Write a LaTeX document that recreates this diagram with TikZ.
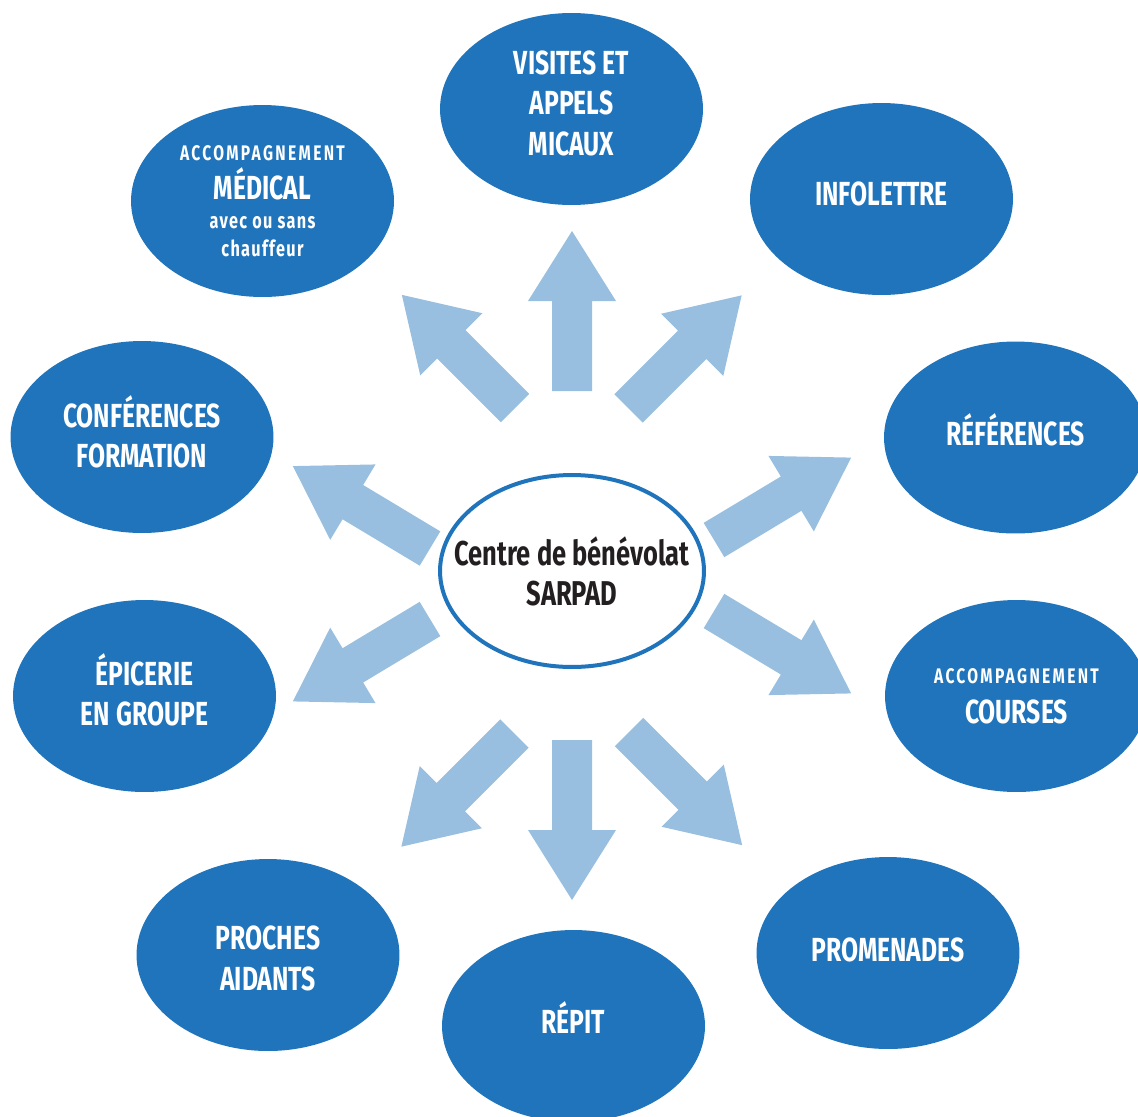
\documentclass[tikz,border=0pt]{standalone}
\usepackage{fontspec}
\setmainfont{Fira Sans}[FakeStretch=0.74]
\newfontfamily\spacedfont{Fira Sans}[FakeStretch=0.74,LetterSpace=11]
\newfontfamily\lowfont{Fira Sans}[FakeStretch=0.74,LetterSpace=6]
\usetikzlibrary{shapes,positioning}

\definecolor{sarpadblue}{RGB}{31,116,187}
\definecolor{arrowblue}{RGB}{152,191,223}
\definecolor{hubtext}{RGB}{35,31,32}

\newcommand{\bigarrow}[2]{%
  \begin{scope}[shift={(#1)},rotate=#2]
    \fill[arrowblue] (0,-20) -- (90,-20) -- (90,-44) -- (160,0)
      -- (90,44) -- (90,20) -- (0,20) -- cycle;
  \end{scope}}
% invisible depth, moves the text block up
\newcommand{\lift}[1]{\rule[-#1]{0pt}{#1}}

\begin{document}
\begin{tikzpicture}[x=0.02cm,y=-0.02cm,
    service/.style={ellipse,fill=sarpadblue,minimum width=5.26cm,
      minimum height=3.84cm,inner sep=-1cm,text=white,align=center,
      font=\bfseries\fontsize{19}{23}\selectfont},
    hub/.style={ellipse,draw=sarpadblue,line width=2.27pt,fill=white,
      minimum width=5.28cm,minimum height=3.84cm,inner sep=-1cm,
      text=hubtext,align=center,font=\bfseries\fontsize{19.6}{22.7}\selectfont}]

  \useasboundingbox (0,0) rectangle (1138,1116);
  \clip (0,0) rectangle (1138,1116);

  % arrows
  \coordinate (aN)  at (572,391);
  \coordinate (aNE) at (628.5,408.5);
  \coordinate (aNW) at (515,408);
  \coordinate (aWN) at (430,548.5);
  \coordinate (aWS) at (430,619);
  \coordinate (aEN) at (714,540);
  \coordinate (aES) at (714,611);
  \coordinate (aSW) at (514.5,733.5);
  \coordinate (aS)  at (572,740);
  \coordinate (aSE) at (629,732);
  \foreach \a/\ang in {aN/90,aNE/45,aNW/135,aWN/149,aWS/211,
                       aEN/31,aES/-31,aSW/225,aS/270,aSE/-45}
    \bigarrow{\a}{\ang};

  \node[hub] (hub) at (572,571) {Centre de bénévolat\\SARPAD};

  \node[service] (visites) at (571.5,109) {VISITES ET\\APPELS\\MICAUX\lift{6.8pt}};
  \node[service] (infolettre) at (881.5,199) {INFOLETTRE\lift{5.7pt}};
  \node[service] (references) at (1015.5,437.5) {RÉFÉRENCES\lift{9.1pt}};
  \node[service] (courses) at (1016.5,696)
    {{\spacedfont\fontsize{12}{14}\selectfont ACCOMPAGNEMENT}\\COURSES};
  \node[service] (promenades) at (888,953) {PROMENADES\lift{3.4pt}};
  \node[service] (repit) at (573.5,1026) {RÉPIT\lift{10.2pt}};
  \node[service] (proches) at (268,955) {\rule{0pt}{17.6pt}PROCHES\\AIDANTS};
  \node[service] (epicerie) at (144.5,696) {ÉPICERIE\\EN GROUPE\lift{7.4pt}};
  \node[service] (conferences) at (142,437) {CONFÉRENCES\\FORMATION\lift{6.2pt}};
  \node[service] (medical) at (262.5,201)
    {{\spacedfont\fontsize{12}{14}\selectfont ACCOMPAGNEMENT}\\[-1pt]
     MÉDICAL\\[-6pt]
     {\lowfont\fontsize{12.5}{15}\selectfont avec ou sans}\\[-7.5pt]
     {\lowfont\fontsize{12.5}{15}\selectfont chauffeur}};

\end{tikzpicture}
\end{document}
